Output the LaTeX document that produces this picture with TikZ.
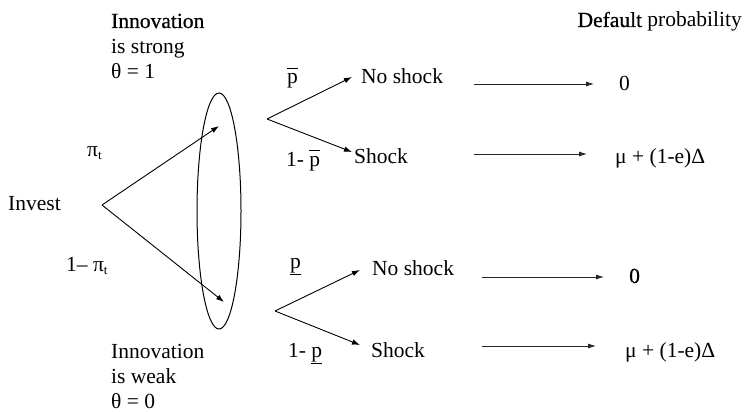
\documentclass[tikz,border=0pt]{standalone}
\usepackage{fontspec}
\setmainfont{Liberation Serif}
\newfontfamily\tnr{Liberation Serif}
\newfontfamily\tnrb[FakeBold=0.7]{Liberation Serif}
\usetikzlibrary{arrows.meta,shapes.geometric}
\newcommand\subt{\raisebox{-3.5pt}{\fontsize{13}{13}\selectfont t}}
\newcommand\pbar{$\overline{\vphantom{l}\hbox{p}}$}
\begin{document}
\begin{tikzpicture}[x=1pt,y=-1pt,
  txt/.style={inner sep=0pt, anchor=base west, font=\tnr\fontsize{21.5}{25}\selectfont},
  arr/.style={-{Latex[length=8pt,width=5.5pt]}, line width=0.9pt},
  farr/.style={-{Latex[length=8pt,width=5pt]}, line width=0.8pt, black!85}]
\useasboundingbox (0,0) rectangle (744,412);
% top labels
\node[txt] (in1) at (111,28) {{\tnrb Innovation}};
\node[txt] (st1) at (111,53) {is strong};
\node[txt] (th1) at (111,78) {θ = 1};
\node[txt, anchor=base east] (dp) at (742,27) {{\tnrb Default} probability};
% bottom labels
\node[txt] (in2) at (111,358) {Innovation};
\node[txt] (st2) at (111,383) {is weak};
\node[txt] (th2) at (111,408) {θ = 0};
% invest
\node[txt] (inv) at (8,210) {Invest};
\node[txt] (pi1) at (87,156) {π\subt};
\node[txt] (pi2) at (66,271) {1– π\subt};
\node[draw, ellipse, line width=1pt, minimum width=44pt, minimum height=236pt, inner sep=0pt] (ell) at (219,211) {};
\coordinate (o) at (102,205);
\coordinate (t1) at (219,126);
\coordinate (t2) at (224,302);
\draw[arr] (o) -- (t1);
\draw[arr] (o) -- (t2);
% upper branch
\coordinate (ou) at (267,119);
\coordinate (ua) at (352,77);
\coordinate (ub) at (352,152);
\draw[arr] (ou) -- (ua);
\draw[arr] (ou) -- (ub);
\node[txt] (pb1) at (287,84) {\pbar};
\node[txt] (pb2) at (286,166) {1- \pbar};
\node[txt] (ns1) at (361,84) {No shock};
\node[txt] (sh1) at (354,163) {Shock};
% lower branch
\coordinate (ol) at (275,311);
\coordinate (la) at (360,270);
\coordinate (lb) at (360,345);
\draw[arr] (ol) -- (la);
\draw[arr] (ol) -- (lb);
\node[txt] (pu1) at (290,268) {\underline{p}};
\node[txt] (pu2) at (288,357) {1- \underline{p}};
\node[txt] (ns2) at (372,275) {No shock};
\node[txt] (sh2) at (371,357) {Shock};
% outcomes
\node[txt] (z1) at (619,90) {0};
\node[txt] (m1) at (615,163) {μ + (1-e)Δ};
\node[txt] (z2) at (629,283) {{\tnrb 0}};
\node[txt] (m2) at (625,357) {μ + (1-e)Δ};
\coordinate (a1s) at (474,84);  \coordinate (a1e) at (594,84);
\coordinate (a2s) at (474,154); \coordinate (a2e) at (587,154);
\coordinate (a3s) at (482,277); \coordinate (a3e) at (604,277);
\coordinate (a4s) at (482,346); \coordinate (a4e) at (596,346);
\draw[farr] (a1s) -- (a1e);
\draw[farr] (a2s) -- (a2e);
\draw[farr] (a3s) -- (a3e);
\draw[farr] (a4s) -- (a4e);
\end{tikzpicture}
\end{document}
